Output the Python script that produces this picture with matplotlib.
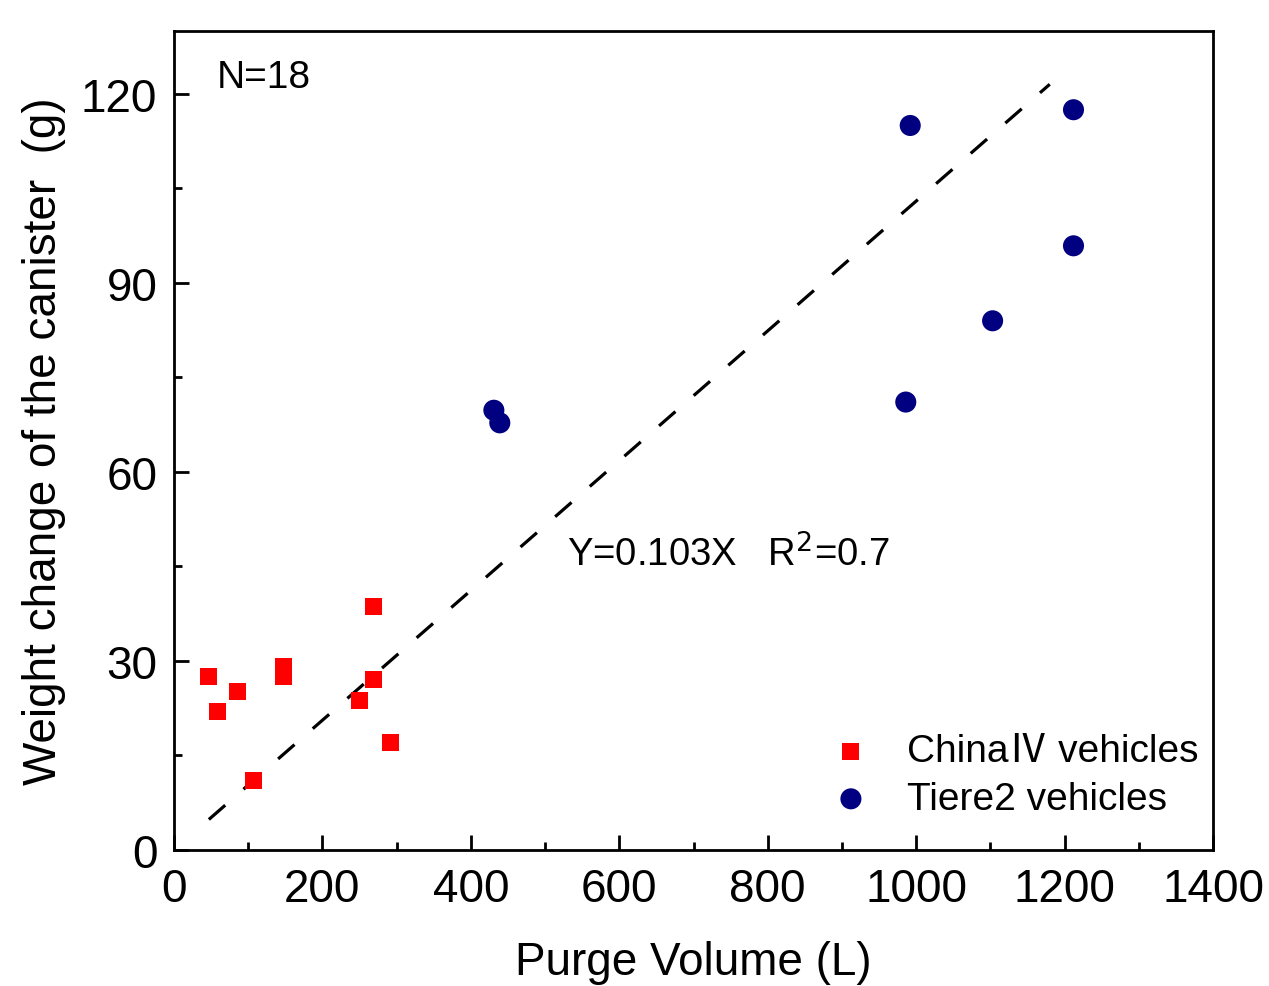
import matplotlib
matplotlib.use("Agg")
import matplotlib.pyplot as plt
import numpy as np
from matplotlib.ticker import MultipleLocator

plt.rcParams['font.family'] = ['Liberation Sans', 'Noto Sans CJK SC', 'DejaVu Sans']

china_x = [47, 58, 86, 107, 147, 147, 250, 269, 269, 292]
china_y = [27.6, 22.0, 25.1, 11.1, 29.2, 27.6, 23.7, 38.7, 27.1, 17.0]
tier_x = [431, 439, 992, 986, 1103, 1212, 1212]
tier_y = [69.8, 67.8, 115.0, 71.1, 84.0, 117.5, 95.9]
slope = 0.103
fit_x = [47, 1180]

fig = plt.figure(figsize=(12.69, 9.87), dpi=100)
ax = fig.add_axes([0.1371, 0.1378, 0.8188, 0.8298])

ax.scatter(china_x, china_y, marker='s', s=150, color='#ff0000', edgecolors='none',
           label='China\u2163 vehicles', zorder=3)
ax.scatter(tier_x, tier_y, marker='o', s=230, color='#000080', edgecolors='none',
           label='Tiere2 vehicles', zorder=3)
fx = np.array(fit_x)
ax.plot(fx, slope * fx, color='black', lw=2.3, dashes=(6.8, 7.6), zorder=2)

ax.set_xlim(0, 1400)
ax.set_ylim(0, 130)
ax.xaxis.set_major_locator(MultipleLocator(200))
ax.xaxis.set_minor_locator(MultipleLocator(100))
ax.yaxis.set_major_locator(MultipleLocator(30))
ax.yaxis.set_minor_locator(MultipleLocator(15))
ax.tick_params(which='both', direction='in', top=False, right=False, width=2)
ax.tick_params(which='major', length=11, labelsize=33)
ax.tick_params(axis='x', which='major', pad=12)
ax.tick_params(axis='y', which='major', pad=12)
ax.tick_params(which='minor', length=6)
for sp in ax.spines.values():
    sp.set_linewidth(2)

ax.set_xlabel('Purge Volume (L)', fontsize=33, labelpad=21)
ax.set_ylabel('Weight change of the canister  (g)', fontsize=33, labelpad=11)

ax.text(0.041, 0.944, 'N=18', transform=ax.transAxes, fontsize=28, va='center', ha='left')
ax.text(0.378, 0.361, r'Y=0.103X   R$^2$=0.7', transform=ax.transAxes, fontsize=27.5,
        va='center', ha='left')

leg = ax.legend(loc='lower right', bbox_to_anchor=(1.0125, 0.007), frameon=False, fontsize=28,
                handlelength=1.0, handletextpad=0.95, labelspacing=0.3,
                markerscale=1.0, borderaxespad=0.3)

fig.savefig('out.png', dpi=100)
